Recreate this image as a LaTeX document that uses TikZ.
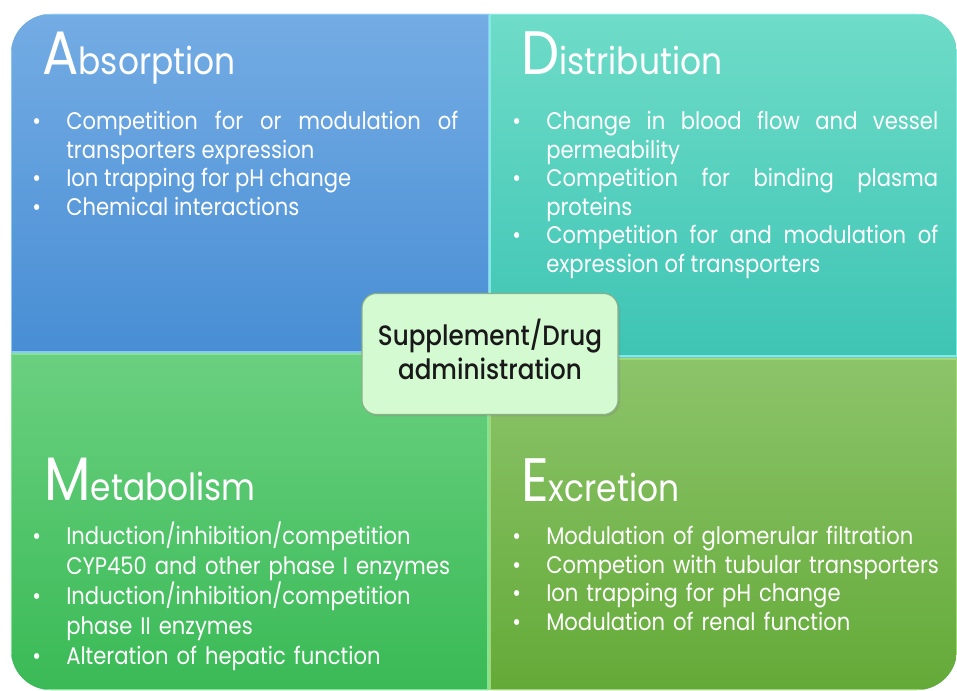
\documentclass[tikz,border=0pt]{standalone}
\usepackage{fontspec}
\setmainfont{Poppins}[FakeStretch=0.88]
\newfontfamily\corefont{Poppins Medium}[FakeStretch=0.88]
\usepackage{enumitem}
\usetikzlibrary{positioning,shadows}
\usepackage{xcolor}
\definecolor{AbsTop}{RGB}{116,172,228}
\definecolor{AbsBot}{RGB}{72,142,212}
\definecolor{AbsEdge}{RGB}{140,200,245}
\definecolor{DisTop}{RGB}{110,220,200}
\definecolor{DisBot}{RGB}{62,196,180}
\definecolor{DisEdge}{RGB}{130,235,225}
\definecolor{MetTop}{RGB}{106,208,128}
\definecolor{MetBot}{RGB}{58,186,86}
\definecolor{MetEdge}{RGB}{130,228,150}
\definecolor{ExcTop}{RGB}{140,196,106}
\definecolor{ExcBot}{RGB}{100,170,56}
\definecolor{ExcEdge}{RGB}{160,215,120}
\definecolor{CoreFill}{RGB}{212,250,210}
\definecolor{CoreLine}{RGB}{140,175,135}
\definecolor{PanelGap}{RGB}{120,200,200}
\setlist[itemize]{nosep, label=\textbullet, leftmargin=25.5pt, labelwidth=25.5pt,
  labelsep=0pt, align=left}
\hyphenpenalty=10000
\newcommand{\headcap}[2]{{\fontsize{46}{48}\selectfont #1}#2}
\tikzset{
  panel/.style={inner sep=0pt, outer sep=0pt, anchor=north west, line width=1.2pt},
  heading/.style={anchor=base west, inner sep=0pt, text=white,
    font=\fontsize{28}{32}\selectfont},
  points/.style={anchor=north west, inner sep=0pt, text=white, text width=319.5pt,
    align=justify, font=\fontsize{18}{21.4}\selectfont},
  core/.style={draw=CoreLine, fill=CoreFill, rounded corners=11pt, thick,
    minimum width=192pt, minimum height=90.75pt, align=center, text depth=7pt,
    font=\corefont\fontsize{21}{26}\selectfont, text=black!90,
    drop shadow={opacity=0.25, shadow xshift=1.5pt, shadow yshift=-1.5pt}}
}
\begin{document}
\begin{tikzpicture}[x=0.75pt, y=-0.75pt]
  \useasboundingbox (0,0) rectangle (957,691);

  % four phases, only the outer corners rounded
  \begin{scope}
    \clip[rounded corners=30pt] (11,14) rectangle (957,690);
    \fill[PanelGap] (11,14) rectangle (957,690);
    \node[panel, top color=AbsTop, bottom color=AbsBot, draw=AbsEdge,
      minimum width=358.5pt, minimum height=253.5pt] (abspanel) at (11,14) {};
    \node[panel, top color=DisTop, bottom color=DisBot, draw=DisEdge,
      minimum width=350.25pt, minimum height=256.5pt] (dispanel) at (490,14) {};
    \node[panel, top color=MetTop, bottom color=MetBot, draw=MetEdge,
      minimum width=357.75pt, minimum height=252pt] (metpanel) at (11,354) {};
    \node[panel, top color=ExcTop, bottom color=ExcBot, draw=ExcEdge,
      minimum width=350.25pt, minimum height=248.25pt] (excpanel) at (490,359) {};
  \end{scope}

  \node[heading] (abshead) at (42,75) {\headcap{A}{bsorption}};
  \node[points] (abslist) at (32,101) {\begin{itemize}
    \item Competition for or modulation of \linebreak transporters expression
    \item Ion trapping for pH change
    \item Chemical interactions
  \end{itemize}};

  \node[heading] (dishead) at (521,75) {\headcap{D}{istribution}};
  \node[points] (dislist) at (512,101) {\begin{itemize}
    \item Change in blood flow and vessel \linebreak permeability
    \item Competition for binding plasma \linebreak proteins
    \item Competition for and modulation of \linebreak expression of transporters
  \end{itemize}};

  \node[heading] (methead) at (44,500) {\headcap{M}{etabolism}};
  \node[points, align=left, text width=330pt,
    font=\fontsize{18}{22.5}\selectfont] (metlist) at (32,514) {\begin{itemize}
    \item Induction/inhibition/competition\newline CYP450 and other phase I enzymes
    \item Induction/inhibition/competition\newline phase II enzymes
    \item Alteration of hepatic function
  \end{itemize}};

  \node[heading] (exchead) at (521,502) {\headcap{E}{xcretion}};
  \node[points, align=left, text width=330pt] (exclist) at (512,516) {\begin{itemize}
    \item Modulation of glomerular filtration
    \item Competion with tubular transporters
    \item Ion trapping for pH change
    \item Modulation of renal function
  \end{itemize}};

  \node[core] (core) at (490,354) {Supplement/Drug\\administration};
\end{tikzpicture}
\end{document}
